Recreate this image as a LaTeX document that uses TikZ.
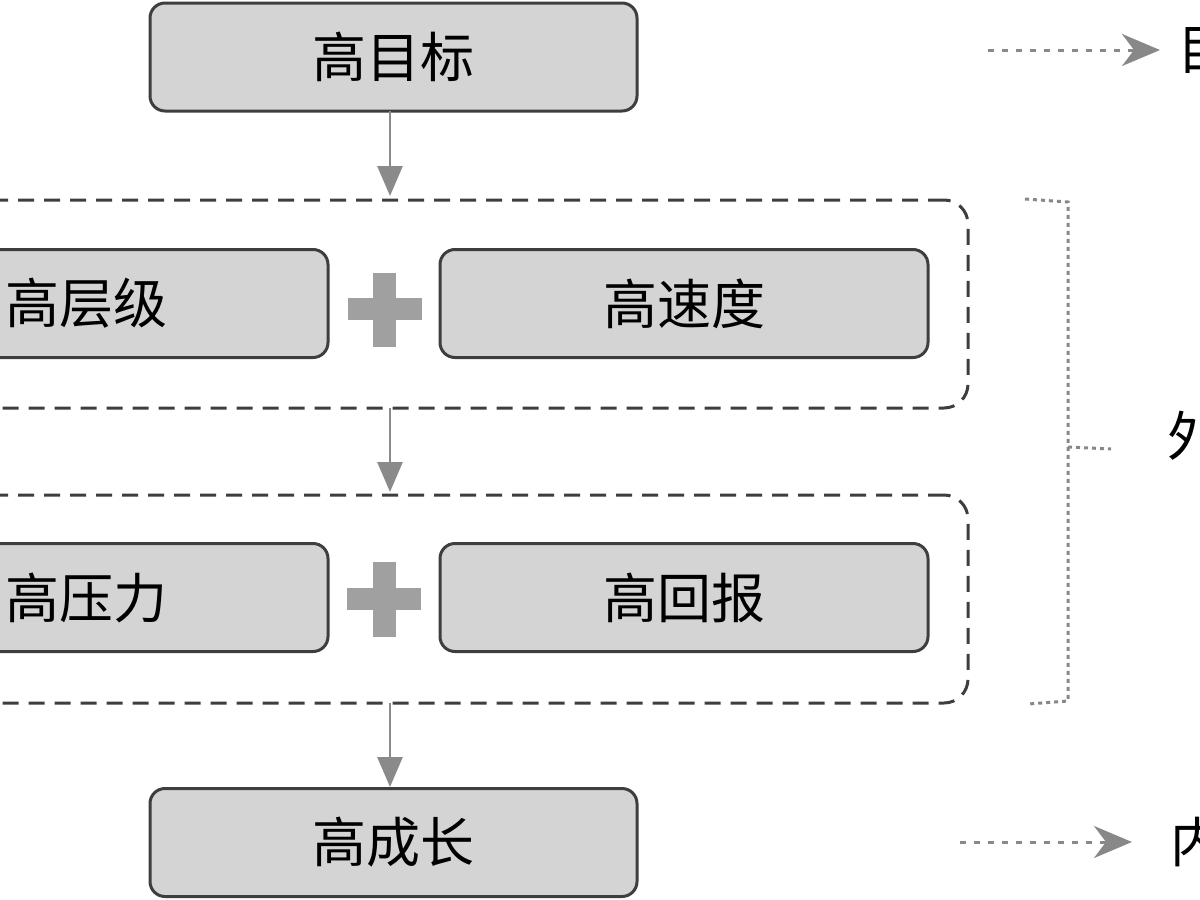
\documentclass[tikz,border=0pt]{standalone}
\usepackage{fontspec}
\newfontfamily\cjk{Noto Sans CJK SC}
\usetikzlibrary{arrows.meta}
\definecolor{boxfill}{HTML}{D4D4D4}
\definecolor{boxline}{HTML}{3E3E3E}
\definecolor{arrgray}{HTML}{8A8A8A}
\definecolor{plusgray}{HTML}{A0A0A0}
\definecolor{dotgray}{HTML}{888888}
\tikzset{
  stagebox/.style={draw=boxline, fill=boxfill, line width=1.5pt, rounded corners=7.5pt,
    minimum height=54pt, inner sep=0pt, font=\cjk\fontsize{27pt}{30pt}\selectfont, text=black},
  groupbox/.style={draw=boxline, line width=1.5pt, dash pattern=on 8pt off 5pt,
    rounded corners=12pt, minimum width=584pt, minimum height=104pt, inner sep=0pt},
  flowarrow/.style={draw=arrgray, line width=1.4pt, -{Triangle[length=15pt,width=12.5pt]}},
  dotarrow/.style={draw=dotgray, line width=1.5pt, dash pattern=on 3pt off 4pt,
    -{Stealth[length=19pt,width=16pt,inset=6pt]}},
  bracket/.style={draw=dotgray, line width=1.5pt, dash pattern=on 2pt off 2pt},
  sidetext/.style={anchor=west, inner sep=0pt, font=\cjk\fontsize{27pt}{30pt}\selectfont, text=black},
  plusbar/.style={fill=plusgray}
}
\begin{document}
\begin{tikzpicture}[x=0.5pt,y=-0.5pt]
\useasboundingbox (0,0) rectangle (1200,900);
\clip (0,0) rectangle (1200,900);
% top and bottom boxes
\node[stagebox, minimum width=243.5pt] (top) at (393.5,57) {高目标};
\node[stagebox, minimum width=243.5pt] (bot) at (393.5,842.5) {高成长};
% groups
\node[groupbox] (g1) at (384,304) {};
\node[groupbox] (g2) at (384,599) {};
% inner boxes
\node[stagebox, minimum width=242pt] (lv) at (86,303.5) {高层级};
\node[stagebox, minimum width=244pt] (sp) at (684,303.5) {高速度};
\node[stagebox, minimum width=242pt] (pr) at (86,597.5) {高压力};
\node[stagebox, minimum width=244pt] (rw) at (684,597.5) {高回报};
% plus signs
\fill[plusbar] (347.5,297.5) rectangle (421.5,320);
\fill[plusbar] (373,272.5) rectangle (396,346.5);
\fill[plusbar] (347,587.5) rectangle (420.5,610);
\fill[plusbar] (372.5,562) rectangle (395.5,637);
% flow arrows
\coordinate (a1s) at (390,111);
\coordinate (a1e) at (390,196);
\coordinate (a2s) at (390,408);
\coordinate (a2e) at (390,492);
\coordinate (a3s) at (390,703);
\coordinate (a3e) at (390,787);
\draw[flowarrow] (a1s) -- (a1e);
\draw[flowarrow] (a2s) -- (a2e);
\draw[flowarrow] (a3s) -- (a3e);
% right side
\coordinate (d1s) at (988,50);
\coordinate (d1e) at (1160,50);
\draw[dotarrow] (d1s) -- (d1e);
\node[sidetext] (t1) at (1177,50) {目};
\coordinate (d2s) at (960,842);
\coordinate (d2e) at (1132,842);
\draw[dotarrow] (d2s) -- (d2e);
\node[sidetext] (t3) at (1170,842) {内};
\coordinate (b1) at (1025,199);
\coordinate (b2) at (1068,202);
\coordinate (b3) at (1068,701);
\coordinate (b4) at (1028,704);
\coordinate (bm1) at (1068,447);
\coordinate (bm2) at (1111,449);
\draw[bracket] (b1) -- (b2) -- (b3) -- (b4);
\draw[bracket] (bm1) -- (bm2);
\node[sidetext] (t2) at (1167,436) {外};
\end{tikzpicture}
\end{document}
